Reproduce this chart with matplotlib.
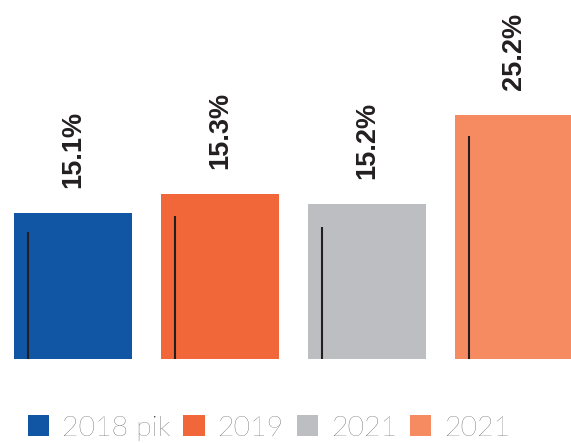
import matplotlib.pyplot as plt
from matplotlib.patches import Patch

# data
categories = ['2018 pik', '2019', '2021', '2021']
bar_heights = [15.1, 17.1, 16.0, 25.2]
value_labels = ['15.1%', '15.3%', '15.2%', '25.2%']
line_heights = [13.1, 14.8, 13.65, 23.05]
colors = ['#1155a5', '#f26739', '#bdbec1', '#f68b62']

fig = plt.figure(figsize=(5.71, 4.43), dpi=100)
ax = fig.add_axes([0, 84 / 443, 1, 359 / 443])

x = list(range(len(categories)))
ax.bar(x, bar_heights, width=0.8, color=colors)
ax.vlines([xi - 0.306 for xi in x], 0, line_heights, color='#231f20', linewidth=1.5)

for xi, h, lab in zip(x, bar_heights, value_labels):
    ax.annotate(lab, (xi, h), xytext=(0, 25), textcoords='offset pixels',
                rotation=90, ha='center', va='bottom', fontsize=19.5,
                fontweight='bold', fontfamily='Liberation Sans', color='#231f20',
                annotation_clip=False)

ax.set_xlim(-0.497, 3.388)
ax.set_ylim(0, 37.1)
ax.axis('off')

handles = [Patch(facecolor=c, edgecolor='none') for c in colors]
fig.legend(handles, categories, loc='center', bbox_to_anchor=(0.471, 15 / 443),
           ncol=4, frameon=False, handlelength=0.75, handleheight=0.75,
           handletextpad=0.45, columnspacing=0.45, borderpad=0,
           prop={'family': 'Lato', 'weight': 'light', 'size': 20.5},
           labelcolor='#3a3a3c')

fig.savefig('out.png', dpi=100)
